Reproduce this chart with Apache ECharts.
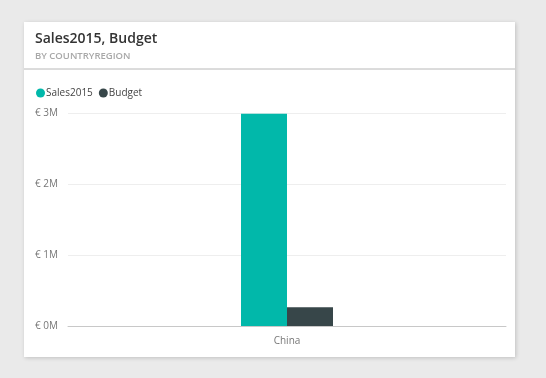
<!DOCTYPE html>
<html>
<head>
<meta charset="utf-8">
<script src="https://cdn.jsdelivr.net/npm/echarts@6/dist/echarts.min.js"></script>
<style>
  html, body { margin: 0; padding: 0; background: #eaeaea; width: 546px; height: 378px; overflow: hidden; }
  #card { position: absolute; left: 24px; top: 22px; width: 491px; height: 335px; background: #fff;
          box-shadow: 1px 1px 4px rgba(0,0,0,0.18); }
  #main { width: 491px; height: 335px; }
</style>
</head>
<body>
<div id="card"><div id="main"></div></div>
<script>
var categories = ['China'];
var sales2015 = [2990000];
var budget = [265000];
var yTicks = [0, 1000000, 2000000, 3000000];

var font = '"Segoe UI", "Open Sans", "Noto Sans", sans-serif';
var myChart = echarts.init(document.getElementById('main'));

var option = {
    color: ['#01b8aa', '#374649'],
    animation: false,
    title: {
        text: 'Sales2015, Budget',
        subtext: 'BY COUNTRYREGION',
        left: 11,
        top: 10,
        itemGap: 5,
        padding: 0,
        textStyle: { fontSize: 14, fontWeight: 600, color: '#333', fontFamily: font },
        subtextStyle: { fontSize: 9.5, fontWeight: 600, color: '#a8a8a8', fontFamily: font }
    },
    graphic: [{
        type: 'line',
        shape: { x1: 0, y1: 47, x2: 491, y2: 47 },
        style: { stroke: '#b8b8b8', lineWidth: 1 }
    }],
    legend: {
        left: 12,
        top: 66,
        padding: 0,
        icon: 'circle',
        itemWidth: 9,
        itemHeight: 9,
        itemGap: 6,
        textStyle: { fontSize: 10, color: '#444', fontFamily: font, padding: [0, 0, 0, -4] },
        data: ['Sales2015', 'Budget']
    },
    grid: { left: 44, right: 9, top: 91, bottom: 31 },
    xAxis: {
        type: 'category',
        data: categories,
        axisTick: { show: false },
        axisLine: { lineStyle: { color: '#c8c8c8' } },
        axisLabel: { fontSize: 10, color: '#777', fontFamily: font, margin: 10 }
    },
    yAxis: {
        type: 'value',
        min: yTicks[0],
        max: yTicks[yTicks.length - 1],
        interval: yTicks[1] - yTicks[0],
        axisLine: { show: false },
        axisTick: { show: false },
        splitLine: { lineStyle: { color: '#eeeeee' } },
        axisLabel: {
            fontSize: 10, color: '#777', fontFamily: font,
            align: 'left', margin: 33,
            formatter: function (v) { return '€ ' + (v / 1000000) + 'M'; }
        }
    },
    series: [
        { name: 'Sales2015', type: 'bar', data: sales2015, barWidth: 46, barGap: '0%' },
        { name: 'Budget', type: 'bar', data: budget, barWidth: 46, barGap: '0%' }
    ]
};

myChart.setOption(option);
</script>
</body>
</html>
